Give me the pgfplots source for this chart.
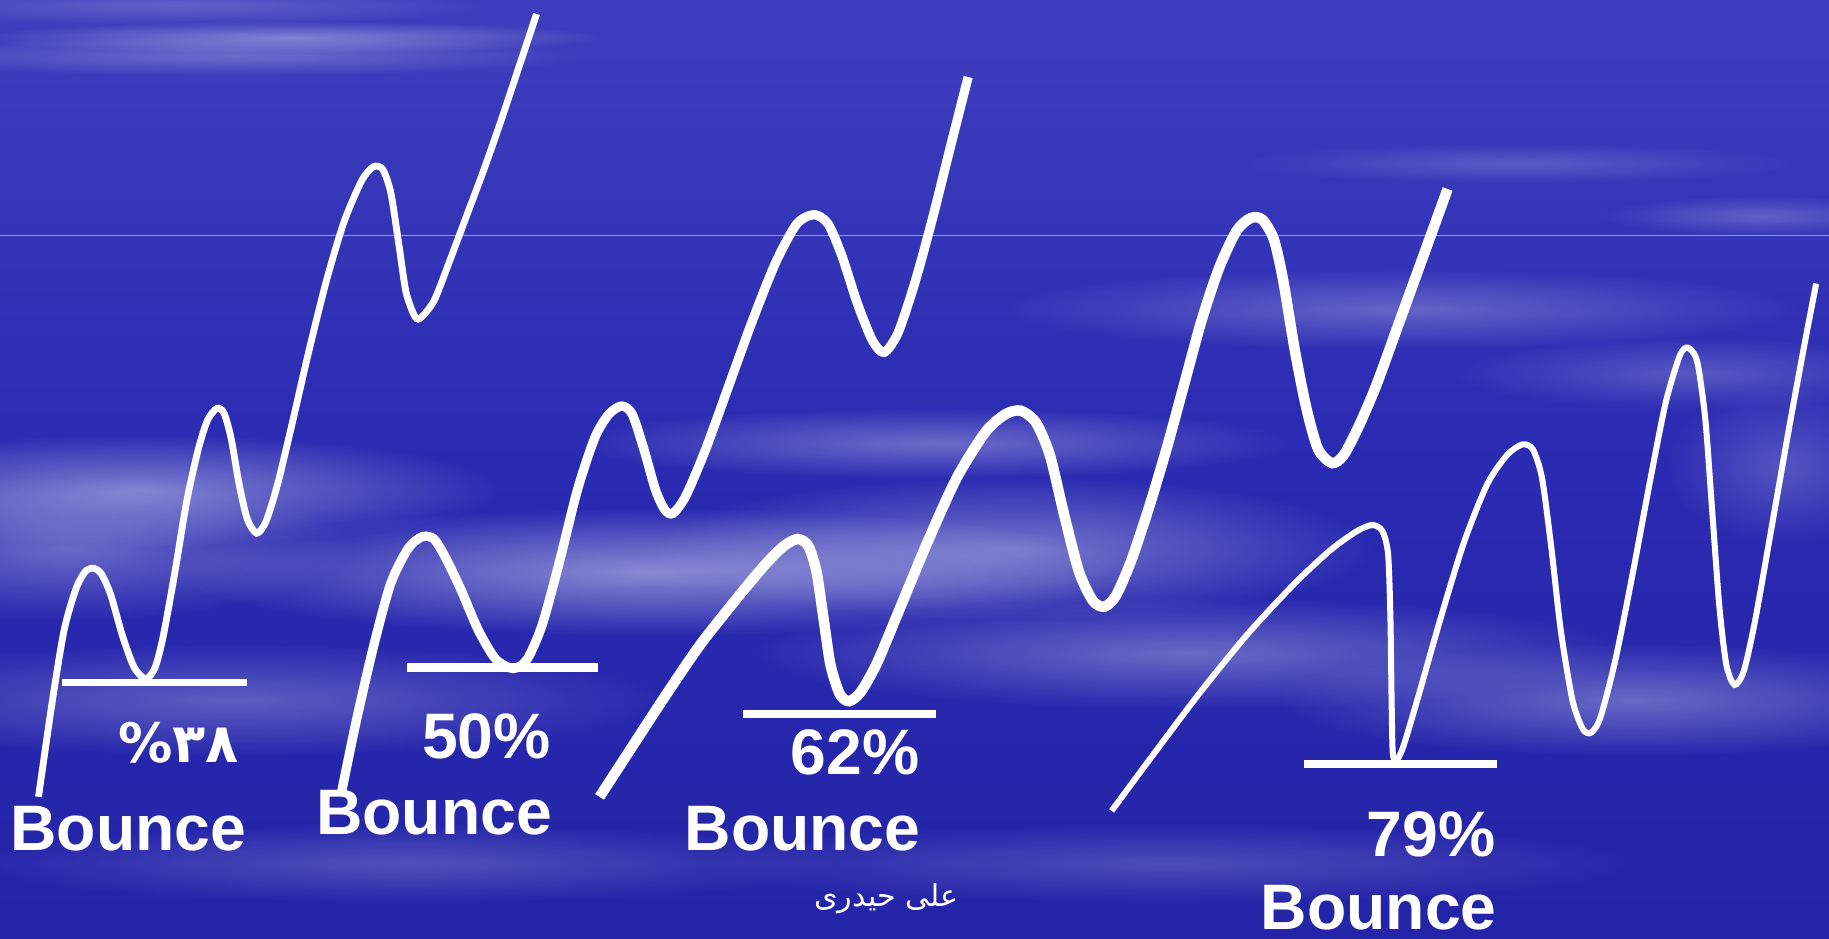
\documentclass[border=0pt]{standalone}
\usepackage{pgfplots}
\pgfplotsset{compat=1.18}
\usepackage{fontspec}
\setmainfont{Liberation Sans}
\newfontfamily\dejavu{DejaVu Sans}
\newfontfamily\arabicfont[Script=Arabic]{DejaVu Sans}
\TeXXeTstate=1
\usetikzlibrary{fadings}
\tikzfading[name=fuzzy, inner color=transparent!0, outer color=transparent!100]
\definecolor{bgtop}{RGB}{62,62,190}
\definecolor{bgmid}{RGB}{42,42,178}
\definecolor{bgbot}{RGB}{36,36,168}
\begin{document}
\begin{tikzpicture}
\begin{axis}[width=16cm, height=8.2056cm, scale only axis,
  xmin=0, xmax=1568, ymin=0, ymax=804, y dir=reverse,
  hide axis, clip=false]
% background
\shade[top color=bgtop, bottom color=bgbot, middle color=bgmid] (axis cs:0,0) rectangle (axis cs:1568,804);
\begin{scope}
\clip (axis cs:0,0) rectangle (axis cs:1568,804);
% cloud streaks
\fill[white, opacity=0.35, path fading=fuzzy] (axis cs:250,32) ellipse [x radius=80pt, y radius=4pt];
\fill[white, opacity=0.25, path fading=fuzzy] (axis cs:200,48) ellipse [x radius=90pt, y radius=5pt];
\fill[white, opacity=0.18, path fading=fuzzy] (axis cs:150,5) ellipse [x radius=80pt, y radius=5pt];
\fill[white, opacity=0.22, path fading=fuzzy] (axis cs:1510,185) ellipse [x radius=40pt, y radius=5pt];
\fill[white, opacity=0.18, path fading=fuzzy] (axis cs:1300,140) ellipse [x radius=70pt, y radius=5pt];
\fill[white, opacity=0.25, path fading=fuzzy] (axis cs:1200,265) ellipse [x radius=100pt, y radius=10pt];
\fill[white, opacity=0.20, path fading=fuzzy] (axis cs:1450,320) ellipse [x radius=60pt, y radius=9pt];
\fill[white, opacity=0.40, path fading=fuzzy] (axis cs:120,420) ellipse [x radius=90pt, y radius=14pt];
\fill[white, opacity=0.30, path fading=fuzzy] (axis cs:60,470) ellipse [x radius=70pt, y radius=18pt];
\fill[white, opacity=0.45, path fading=fuzzy] (axis cs:560,490) ellipse [x radius=120pt, y radius=16pt];
\fill[white, opacity=0.35, path fading=fuzzy] (axis cs:870,470) ellipse [x radius=90pt, y radius=18pt];
\fill[white, opacity=0.30, path fading=fuzzy] (axis cs:800,380) ellipse [x radius=90pt, y radius=9pt];
\fill[white, opacity=0.30, path fading=fuzzy] (axis cs:1020,560) ellipse [x radius=110pt, y radius=14pt];
\fill[white, opacity=0.30, path fading=fuzzy] (axis cs:1400,600) ellipse [x radius=90pt, y radius=14pt];
\fill[white, opacity=0.25, path fading=fuzzy] (axis cs:200,600) ellipse [x radius=110pt, y radius=14pt];
\fill[white, opacity=0.20, path fading=fuzzy] (axis cs:350,740) ellipse [x radius=110pt, y radius=10pt];
\fill[white, opacity=0.18, path fading=fuzzy] (axis cs:1000,740) ellipse [x radius=120pt, y radius=10pt];
\fill[white, opacity=0.20, path fading=fuzzy] (axis cs:1530,400) ellipse [x radius=30pt, y radius=20pt];
\end{scope}
\draw[white, opacity=0.5, line width=0.3pt] (axis cs:0,202) -- (axis cs:1568,202);

% line 1 (38%)
\addplot[white, line width=1.7pt, smooth, tension=0.45] coordinates {
(33,683) (45,600) (55,540) (65,505) (73,490) (80,487) (87,492) (95,510) (105,545) (115,572) (125,582) (133,572) (140,545) (150,490) (160,430) (170,385) (178,360) (186,350) (192,354) (198,375) (205,415) (212,445) (220,457) (228,447) (238,415) (250,365) (265,300) (280,240) (295,190) (310,155) (320,143) (328,145) (335,165) (342,210) (348,250) (355,270) (360,273) (372,258) (385,225) (400,185) (415,145) (430,102) (445,57) (460,12)};
% line 2 (50%)
\addplot[white, line width=2.3pt, smooth, tension=0.45] coordinates {
(293,678) (305,620) (320,555) (335,500) (350,470) (362,460) (372,462) (382,478) (395,505) (410,540) (425,565) (440,573) (452,565) (465,535) (480,480) (495,420) (510,375) (522,355) (533,348) (542,355) (552,385) (562,420) (570,437) (577,440) (588,425) (605,385) (625,330) (645,275) (665,225) (683,192) (698,184) (710,192) (722,220) (735,260) (748,292) (758,302) (770,285) (785,240) (800,185) (815,125) (830,66)};
% line 3 (62%)
\addplot[white, line width=2.6pt, smooth, tension=0.45] coordinates {
(514,683) (540,643) (570,597) (600,553) (630,515) (655,485) (672,468) (684,462) (693,468) (700,490) (706,530) (712,570) (720,595) (728,601) (738,593) (752,568) (770,525) (795,465) (820,410) (845,370) (862,355) (875,352) (888,362) (900,390) (912,440) (925,490) (937,515) (947,520) (957,510) (970,480) (985,435) (1000,385) (1015,330) (1030,275) (1045,230) (1060,198) (1072,187) (1082,188) (1092,205) (1100,240) (1110,300) (1120,350) (1130,385) (1142,397) (1152,390) (1165,365) (1180,330) (1200,275) (1220,220) (1241,162)};
% line 4 (79%)
\addplot[white, line width=1.5pt, smooth, tension=0.45] coordinates {
(953,695) (990,645) (1030,592) (1070,543) (1110,500) (1140,472) (1162,456) (1176,450) (1185,455) (1190,475) (1192,530) (1193,600) (1194,645) (1197,652) (1203,640) (1215,600) (1235,530) (1255,465) (1275,415) (1292,390) (1305,381) (1314,385) (1322,410) (1330,470) (1338,540) (1348,600) (1357,625) (1364,628) (1372,615) (1385,565) (1400,490) (1415,410) (1428,345) (1440,305) (1447,298) (1455,310) (1462,360) (1468,440) (1474,520) (1480,570) (1487,587) (1495,575) (1505,530) (1520,445) (1535,360) (1547,295) (1557,243)};
% retracement levels
\addplot[white, line width=1.9pt] coordinates {(53,585) (212,585)};
\addplot[white, line width=2.1pt] coordinates {(349,572) (513,572)};
\addplot[white, line width=2.1pt] coordinates {(637,612) (802,612)};
\addplot[white, line width=2.1pt] coordinates {(1118,655) (1283,655)};

% labels
\node[white, font=\dejavu\bfseries\fontsize{13.5}{15}\selectfont] at (axis cs:153,637) {\%۳۸};
\node[white, font=\bfseries\fontsize{16}{18}\selectfont] at (axis cs:110,710) {Bounce};
\node[white, font=\bfseries\fontsize{16}{18}\selectfont] at (axis cs:417,631) {50\%};
\node[white, font=\bfseries\fontsize{16}{18}\selectfont] at (axis cs:372,697) {Bounce};
\node[white, font=\bfseries\fontsize{16}{18}\selectfont] at (axis cs:733,645) {62\%};
\node[white, font=\bfseries\fontsize{16}{18}\selectfont] at (axis cs:688,710) {Bounce};
\node[white, font=\bfseries\fontsize{16}{18}\selectfont] at (axis cs:1227,715) {79\%};
\node[white, font=\bfseries\fontsize{16}{18}\selectfont, anchor=base, inner sep=0pt] at (axis cs:1182,797) {Bounce};
\node[white, font=\arabicfont\fontsize{7.5}{8}\selectfont] at (axis cs:760,770) {\beginR علی حیدری\endR};
\end{axis}
\pgfresetboundingbox
\path (current axis.south west) rectangle (current axis.north east);
\end{tikzpicture}
\end{document}
